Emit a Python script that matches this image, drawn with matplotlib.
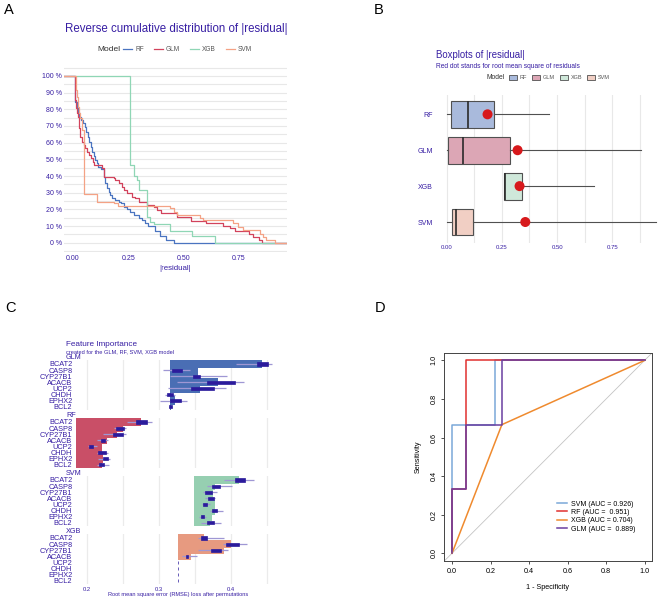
import numpy as np
import matplotlib
matplotlib.use("Agg")
import matplotlib.pyplot as plt
from matplotlib.lines import Line2D
from matplotlib.patches import Patch

plt.rcParams['font.family'] = ['Liberation Sans', 'DejaVu Sans']

# ---------------- data ----------------
# Panel A: reverse cumulative distribution of |residual| (drop position, level in %)
a_models = ["RF", "GLM", "XGB", "SVM"]
a_colors = ["#4a74c0", "#d2425c", "#8fd6b5", "#f4a285"]
rf_x = [0.0106, 0.0181, 0.0226, 0.0287, 0.0362, 0.0438, 0.0528, 0.0588, 0.0664, 0.0739,
        0.080, 0.086, 0.095, 0.101, 0.107, 0.113, 0.125, 0.139, 0.146, 0.154, 0.161,
        0.169, 0.177, 0.192, 0.207, 0.219, 0.229, 0.244, 0.260, 0.275, 0.297, 0.312,
        0.327, 0.340, 0.373, 0.395, 0.420, 0.455]
rf_pct = [84.6, 81.6, 78.6, 75.6, 73.6, 71.6, 69.6, 66.6, 63.6, 60.6,
          57.6, 54.6, 52.0, 49.6, 47.6, 45.6, 44.0, 39.6, 35.6, 32.6, 30.6,
          28.6, 26.6, 25.6, 24.6, 23.6, 21.6, 20.0, 18.6, 16.6, 14.6, 13.6,
          11.6, 10.0, 7.0, 4.0, 1.5, 0.0]
glm_x = [0.0075, 0.0106, 0.0136, 0.0181, 0.0226, 0.0257, 0.0287, 0.0332, 0.0407, 0.0483,
         0.0558, 0.0634, 0.0709, 0.083, 0.0905, 0.0966, 0.131, 0.139, 0.185, 0.192,
         0.207, 0.222, 0.229, 0.244, 0.267, 0.282, 0.297, 0.335, 0.365, 0.380, 0.400,
         0.472, 0.533, 0.600, 0.678, 0.711, 0.733, 0.798, 0.813, 0.843, 0.854]
glm_pct = [91.6, 85.6, 80.6, 77.6, 75.6, 73.6, 68.6, 63.6, 60.6, 58.6,
           56.6, 54.6, 52.6, 50.6, 48.6, 46.6, 44.6, 39.6, 38.6, 37.6,
           35.6, 33.6, 31.6, 29.6, 27.6, 26.6, 24.6, 22.6, 21.6, 19.6, 17.6,
           15.6, 13.0, 11.6, 10.0, 8.6, 7.0, 5.2, 3.6, 1.6, 0.0]
xgb_x = [0.258, 0.275, 0.290, 0.300, 0.335, 0.350, 0.365, 0.439, 0.540, 0.645]
xgb_pct = [46.6, 40.0, 37.6, 31.6, 15.6, 12.6, 11.0, 7.0, 4.0, 0.0]
svm_x = [0.0136, 0.0181, 0.0226, 0.0287, 0.0332, 0.0407, 0.0483, 0.109, 0.184, 0.205,
         0.439, 0.455, 0.470, 0.575, 0.590, 0.724, 0.745, 0.770, 0.846, 0.860, 0.875, 0.915]
svm_pct = [91.6, 87.6, 81.6, 77.6, 74.6, 67.6, 29.2, 24.6, 23.6, 22.0,
           20.6, 18.2, 16.4, 15.0, 13.6, 11.6, 9.6, 7.6, 5.2, 3.2, 1.6, 0.0]

# Panel B: boxplots of |residual|
b_models = ["RF", "GLM", "XGB", "SVM"]
b_fill = ["#a9badc", "#dca6b5", "#cfe8da", "#f1cfc4"]
b_q1 = [0.020, 0.008, 0.259, 0.023]
b_med = [0.098, 0.076, 0.262, 0.041]
b_q3 = [0.212, 0.285, 0.339, 0.118]
b_lo = [0.0, 0.0, 0.259, 0.0]
b_hi = [0.464, 0.882, 0.668, 0.950]
b_rmse = [0.185, 0.321, 0.330, 0.356]

# Panel C: feature importance
fi_features = ["BCAT2", "CASP8", "CYP27B1", "ACACB", "UCP2", "CHDH", "EPHX2", "BCL2"]
fi_models = ["GLM", "RF", "SVM", "XGB"]
fi_colors = ["#4a6eb4", "#c94f67", "#96cfb1", "#e79a80"]
fi_base = [0.3157, 0.1847, 0.3495, 0.3264]
glm_loss = [0.443, 0.355, 0.355, 0.383, 0.358, 0.317, 0.322, 0.317]
glm_q1 = [0.436, 0.319, 0.347, 0.367, 0.345, 0.312, 0.316, 0.315]
glm_q3 = [0.452, 0.332, 0.357, 0.406, 0.377, 0.320, 0.331, 0.318]
glm_lo = [0.408, 0.306, 0.316, 0.325, 0.313, 0.309, 0.302, 0.314]
glm_hi = [0.458, 0.343, 0.395, 0.418, 0.394, 0.323, 0.339, 0.319]
rf_loss = [0.275, 0.251, 0.2425, 0.2287, 0.2208, 0.2208, 0.2231, 0.2217]
rf_q1 = [0.2685, 0.2407, 0.237, 0.2194, 0.2037, 0.2153, 0.2222, 0.2176]
rf_q3 = [0.2842, 0.2518, 0.2509, 0.2255, 0.2093, 0.2269, 0.2292, 0.2241]
rf_lo = [0.2557, 0.2384, 0.2231, 0.2139, 0.2023, 0.2139, 0.2153, 0.2139]
rf_hi = [0.2909, 0.2546, 0.2546, 0.2301, 0.2139, 0.2301, 0.2324, 0.231]
svm_loss = [0.412, 0.378, 0.376, 0.376, 0.378, 0.378, 0.374, 0.371]
svm_q1 = [0.406, 0.3736, 0.3643, 0.368, 0.362, 0.3736, 0.3583, 0.3667]
svm_q3 = [0.420, 0.3852, 0.3736, 0.3769, 0.3667, 0.3806, 0.363, 0.3769]
svm_lo = [0.390, 0.3667, 0.362, 0.364, 0.3597, 0.3713, 0.3565, 0.3583]
svm_hi = [0.4317, 0.4014, 0.3815, 0.378, 0.3713, 0.389, 0.3657, 0.386]
xgb_loss = [0.3634, 0.4004, 0.391, 0.345, 0.3264, 0.3264, 0.3264, 0.3264]
xgb_q1 = [0.359, 0.3935, 0.3722, 0.338, 0.3264, 0.3264, 0.3264, 0.3264]
xgb_q3 = [0.3675, 0.4116, 0.3861, 0.3412, 0.3264, 0.3264, 0.3264, 0.3264]
xgb_lo = [0.355, 0.389, 0.355, 0.332, 0.3264, 0.3264, 0.3264, 0.3264]
xgb_hi = [0.391, 0.4231, 0.3967, 0.3528, 0.3264, 0.3264, 0.3264, 0.3264]

# Panel D: ROC curves
roc_svm_fpr = [0, 0, 0.222, 0.222, 1]
roc_svm_tpr = [0, 0.667, 0.667, 1, 1]
roc_rf_fpr = [0, 0, 0.074, 0.074, 1]
roc_rf_tpr = [0, 0.333, 0.333, 1, 1]
roc_xgb_fpr = [0, 0.259, 1]
roc_xgb_tpr = [0, 0.667, 1]
roc_glm_fpr = [0, 0, 0.074, 0.074, 0.259, 0.259, 1]
roc_glm_tpr = [0, 0.333, 0.333, 0.667, 0.667, 1, 1]
roc_labels = ["SVM (AUC = 0.926)", "RF (AUC =  0.951)", "XGB (AUC = 0.704)", "GLM (AUC =  0.889)"]
roc_colors = ["#7aa8d8", "#e0302f", "#ef8a2e", "#6a3fa0"]

# ---------------- layout helpers ----------------
W, H = 658, 599
TXT = "#371ea3"
fig = plt.figure(figsize=(W / 100, H / 100), dpi=100)


def rect(l, t, r, b):
    return [l / W, 1 - b / H, (r - l) / W, (b - t) / H]


def fx(px):
    return px / W


def fy(py):
    return 1 - py / H


def clean(ax):
    for s in ax.spines.values():
        s.set_visible(False)
    ax.tick_params(length=0, which='both')


# ---------------- Panel A ----------------
axA = fig.add_axes(rect(64, 66.8, 286.7, 251.9))
clean(axA)
xlo, xhi = -0.0407, 0.9674
for xs, ps, c in zip([rf_x, glm_x, xgb_x, svm_x], [rf_pct, glm_pct, xgb_pct, svm_pct], a_colors):
    xx = np.r_[xlo, xs, xhi]
    yy = np.r_[100.0, ps, ps[-1]] / 100.0
    axA.step(xx, yy, where='post', color=c, lw=0.9, zorder=3)
axA.set_xlim(xlo, xhi)
axA.set_ylim(-0.055, 1.055)
axA.set_yticks(np.round(np.arange(0, 1.01, 0.1), 2))
axA.set_yticklabels([f"{int(round(v * 100))} %" for v in np.arange(0, 1.01, 0.1)])
axA.set_yticks(np.round(np.arange(-0.05, 1.06, 0.1), 3), minor=True)
axA.set_xticks([0, 0.25, 0.5, 0.75])
axA.set_xticklabels(["0.00", "0.25", "0.50", "0.75"])
axA.grid(axis='y', which='both', color='#e8e8e8', lw=0.8)
axA.set_axisbelow(True)
axA.tick_params(axis='y', labelsize=5, labelcolor=TXT, pad=1.5)
axA.tick_params(axis='x', labelsize=5, labelcolor=TXT, pad=2.5)
fig.text(fx(176), fy(29.3), "Reverse cumulative distribution of |residual|", ha='center', va='center',
         fontsize=8.3, color=TXT)
fig.text(fx(175.5), fy(268), "|residual|", ha='center', va='center', fontsize=5.7, color=TXT)
fig.text(fx(97.7), fy(49.5), "Model", ha='left', va='center', fontsize=6, color='#333333')
hA = [Line2D([], [], color=c, lw=0.9) for c in a_colors]
fig.legend(hA, a_models, loc='center left', bbox_to_anchor=(fx(123), fy(49.5)), ncol=4,
           frameon=False, fontsize=4.7, handlelength=1.42, handletextpad=0.45, columnspacing=1.5,
           borderpad=0, borderaxespad=0, labelcolor='#555555')

# ---------------- Panel B ----------------
axB = fig.add_axes(rect(437, 95, 658, 243.3))
clean(axB)
stats = [dict(med=m, q1=a, q3=b, whislo=lo, whishi=hi, fliers=[])
         for m, a, b, lo, hi in zip(b_med, b_q1, b_q3, b_lo, b_hi)]
pos = np.arange(1, len(b_models) + 1)
bp = axB.bxp(stats, positions=pos, widths=0.75, vert=False, patch_artist=True, showcaps=False,
             showfliers=False,
             boxprops=dict(edgecolor='#505050', lw=0.8),
             medianprops=dict(color='#2a2a2a', lw=1.2),
             whiskerprops=dict(color='#505050', lw=0.8))
for p, c in zip(bp['boxes'], b_fill):
    p.set_facecolor(c)
axB.scatter(b_rmse, pos, s=52, color='#d7191c', zorder=5, edgecolors='none')
axB.set_xlim(-0.0439, 0.957)
axB.set_ylim(4.593, 0.462)
axB.set_yticks(pos)
axB.set_yticklabels(b_models)
axB.set_xticks([0, 0.25, 0.5, 0.75])
axB.set_xticklabels(["0.00", "0.25", "0.50", "0.75"])
axB.set_xticks([0.125, 0.375, 0.625, 0.875], minor=True)
axB.grid(axis='x', which='both', color='#e8e8e8', lw=0.8)
axB.set_axisbelow(True)
axB.tick_params(axis='y', labelsize=5, labelcolor=TXT, pad=3)
axB.tick_params(axis='x', labelsize=4.3, labelcolor=TXT, pad=1.5)
fig.text(fx(436), fy(55), "Boxplots of |residual|", ha='left', va='center', fontsize=6.9, color=TXT)
fig.text(fx(436), fy(66.7), "Red dot stands for root mean square of residuals", ha='left', va='center',
         fontsize=4.8, color=TXT)
fig.text(fx(486.7), fy(77.7), "Model", ha='left', va='center', fontsize=4.9, color='#333333')
hB = [Patch(facecolor=c, edgecolor='#505050', lw=0.6) for c in b_fill]
fig.legend(hB, b_models, loc='center left', bbox_to_anchor=(fx(508.5), fy(77.7)), ncol=4,
           frameon=False, fontsize=4, handlelength=1.45, handleheight=1.1, handletextpad=0.5,
           columnspacing=0.9, borderpad=0, borderaxespad=0, labelcolor='#555555')

# ---------------- Panel C ----------------
fi_loss = [glm_loss, rf_loss, svm_loss, xgb_loss]
fi_q1 = [glm_q1, rf_q1, svm_q1, xgb_q1]
fi_q3 = [glm_q3, rf_q3, svm_q3, xgb_q3]
fi_lo = [glm_lo, rf_lo, svm_lo, xgb_lo]
fi_hi = [glm_hi, rf_hi, svm_hi, xgb_hi]
rowh = 6.1
fpos = np.arange(1, len(fi_features) + 1)
for k, name in enumerate(fi_models):
    row1 = 364 + 58 * k
    ax = fig.add_axes(rect(74, row1 - 0.6 * rowh, 283, row1 + 7.6 * rowh))
    clean(ax)
    base = fi_base[k]
    loss = np.array(fi_loss[k])
    # bars drawn bottom-first so upper bars overlap lower ones
    ax.barh(fpos[::-1], (loss - base)[::-1], left=base, height=1.35, color=fi_colors[k], zorder=2)
    ax.hlines(fpos, fi_lo[k], fi_hi[k], color='#9f97d4', lw=0.9, zorder=3)
    q1 = np.array(fi_q1[k]); q3 = np.array(fi_q3[k])
    ax.barh(fpos, q3 - q1, left=q1, height=0.5, color='#2b1b9c', edgecolor='#2b1b9c', lw=0.5, zorder=4)
    ax.set_xlim(0.1824, 0.4726)
    ax.set_ylim(8.6, 0.4)
    ax.set_yticks(fpos)
    ax.set_yticklabels(fi_features)
    ax.set_xticks([0.2, 0.3, 0.4])
    ax.set_xticks([0.25, 0.35, 0.45], minor=True)
    ax.grid(axis='x', which='both', color='#ebebeb', lw=0.9)
    ax.set_axisbelow(True)
    ax.tick_params(axis='y', labelsize=5.3, labelcolor=TXT, pad=1.2)
    if k == len(fi_models) - 1:
        ax.set_xticklabels(["0.2", "0.3", "0.4"])
        ax.tick_params(axis='x', labelsize=4.2, labelcolor=TXT, pad=1.8)
    else:
        ax.set_xticklabels([])
    fig.text(fx(66), fy(row1 - 6.4), name, ha='left', va='center', fontsize=5.2, color=TXT)
fig.text(fx(65.7), fy(344.5), "Feature Importance", ha='left', va='center', fontsize=5.9, color=TXT)
fig.text(fx(65.7), fy(351.5), "created for the GLM, RF, SVM, XGB model", ha='left', va='center',
         fontsize=4.1, color=TXT)
fig.text(fx(178.5), fy(594.5), "Root mean square error (RMSE) loss after permutations", ha='center',
         va='center', fontsize=4.1, color=TXT)

# ---------------- Panel D ----------------
axD = fig.add_axes(rect(444.3, 352.7, 652.3, 561))
axD.axline((0, 0), (1, 1), color='#c4c4c4', lw=0.6, zorder=1)
for fpr, tpr, c, lab in zip([roc_svm_fpr, roc_rf_fpr, roc_xgb_fpr, roc_glm_fpr],
                            [roc_svm_tpr, roc_rf_tpr, roc_xgb_tpr, roc_glm_tpr],
                            roc_colors, roc_labels):
    axD.plot(fpr, tpr, color=c, lw=1.1, label=lab, zorder=3)
axD.set_xlim(-0.04, 1.04)
axD.set_ylim(-0.04, 1.04)
ticks = np.round(np.arange(0, 1.01, 0.2), 1)
axD.set_xticks(ticks)
axD.set_yticks(ticks)
axD.set_xticklabels([f"{t:.1f}" for t in ticks])
axD.set_yticklabels([f"{t:.1f}" for t in ticks], rotation=90, va='center')
axD.tick_params(direction='out', length=2.5, width=0.6, labelsize=5.2, pad=2.5, color='#333333')
for s in axD.spines.values():
    s.set_linewidth(0.7)
    s.set_color('#444444')
fig.text(fx(548), fy(587.7), "1 - Specificity", ha='center', va='center', fontsize=5.2)
fig.text(fx(418), fy(457), "Sensitivity", ha='center', va='center', fontsize=5.2, rotation=90)
axD.legend(loc='upper left', bbox_to_anchor=((556.7 - 444.3) / 208, (561 - 500.5) / 208.3),
           frameon=False, fontsize=5, handlelength=1.44, handletextpad=0.58, labelspacing=0.2,
           borderpad=0, borderaxespad=0)

# ---------------- panel letters ----------------
for lab, x, y in [("A", 9, 10), ("B", 379, 10), ("C", 10, 307.7), ("D", 380, 308)]:
    fig.text(fx(x), fy(y), lab, ha='center', va='center', fontsize=10.5)

fig.savefig("out.png", dpi=100)
